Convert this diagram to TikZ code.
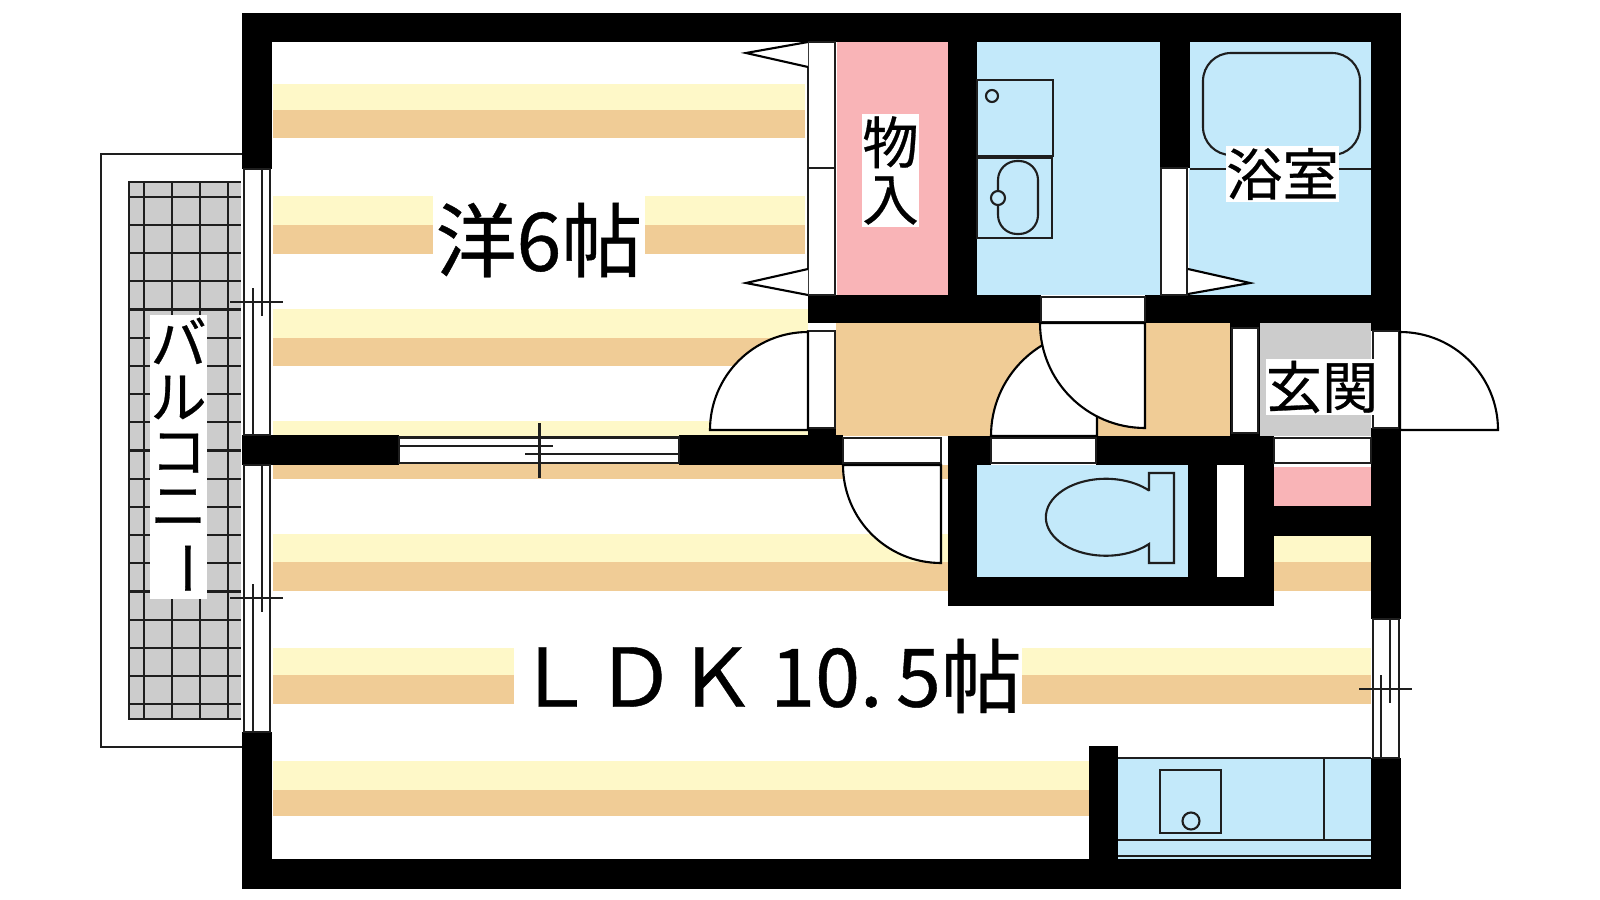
\documentclass[tikz,border=0pt]{standalone}
\usepackage{fontspec}
\usepackage{graphicx}
\setmainfont{Noto Sans CJK JP}[FakeBold=0.5]
\definecolor{stripey}{HTML}{FEF8C8}
\definecolor{stripeo}{HTML}{F0CC96}
\definecolor{pinkroom}{HTML}{F9B4B7}
\definecolor{blueroom}{HTML}{C3E9FA}
\definecolor{grayroom}{HTML}{CCCCCC}
\definecolor{lineink}{HTML}{1E1E1E}
\tikzset{
  wall/.style={fill=black, draw=none},
  yrow/.style={fill=stripey, draw=none},
  orow/.style={fill=stripeo, draw=none},
  fixture/.style={draw=lineink, line width=0.6pt},
  doorswing/.style={draw=black, line width=0.6pt, fill=white},
  jamb/.style={draw=lineink, line width=0.6pt, fill=white},
  hairline/.style={draw=lineink, line width=0.6pt},
  smalllabel/.style={fill=white, inner sep=0pt, align=center, font=\fontsize{16}{16.1}\selectfont},
  biglabel/.style={inner sep=0pt, font=\fontsize{23}{23}\selectfont}
}
\begin{document}
\begin{tikzpicture}[x=0.01cm, y=-0.01cm]
        \useasboundingbox[fill=white] (0,0) rectangle (1600,900);

        % Floor stripes
        \foreach \ytop/\ymid/\ybot/\xend in {84/110/138/805, 196/225/254/805, 309/338/366/808, 421/448/479/808, 534/562/591/948, 648/675/704/1371, 761/790/816/1089} {
            \fill[yrow] (273,\ytop) rectangle (\xend,\ymid);
            \fill[orow] (273,\ymid) rectangle (\xend,\ybot);
        }
        \fill[orow] (808,465) rectangle (948,479);
        \fill[yrow] (1274,536) rectangle (1371,562);
        \fill[orow] (1274,562) rectangle (1371,591);

        % Rooms
        \fill[pinkroom] (837,42) rectangle (948,295);
        \fill[blueroom] (977,42) rectangle (1160,295);
        \fill[blueroom] (1189,42) rectangle (1371,295);
        \fill[stripeo] (836,323) rectangle (1230,436);
        \fill[grayroom] (1260,323) rectangle (1371,436);
        \fill[blueroom] (977,465) rectangle (1188,577);
        \fill[pinkroom] (1274,467) rectangle (1371,506);
        \fill[blueroom] (1118,758) rectangle (1371,859);

        % Balcony
        \draw[hairline] (242,154) -- (101,154) -- (101,747) -- (242,747);
        \fill[grayroom] (129,182) rectangle (241,719);
        \foreach \xg in {144,172,200,228} {
            \draw[hairline] (\xg,182) -- (\xg,719);
        }
        \foreach \yg in {0,...,18} {
            \draw[hairline] (129,196.7+28.2*\yg) -- (241,196.7+28.2*\yg);
        }
        \draw[hairline] (241,719) -- (129,719) -- (129,182) -- (241,182);

        % Walls
        \fill[wall] (242,13) rectangle (1401,42);
        \fill[wall] (242,859) rectangle (1401,889);
        \fill[wall] (242,13) rectangle (272,169);
        \fill[wall] (242,732) rectangle (272,889);
        \fill[wall] (1371,13) rectangle (1401,331);
        \fill[wall] (1371,428) rectangle (1401,619);
        \fill[wall] (1371,758) rectangle (1401,889);
        \fill[wall] (242,435) rectangle (399,465);
        \fill[wall] (679,435) rectangle (843,465);
        \fill[wall] (808,428) rectangle (836,436);
        \fill[wall] (808,295) rectangle (1041,323);
        \fill[wall] (1145,295) rectangle (1401,323);
        \fill[wall] (948,42) rectangle (977,295);
        \fill[wall] (1160,42) rectangle (1190,168);
        \fill[wall] (1230,323) rectangle (1260,436);
        \fill[wall] (948,436) rectangle (991,465);
        \fill[wall] (948,465) rectangle (977,606);
        \fill[wall] (1096,436) rectangle (1274,465);
        \fill[wall] (948,577) rectangle (1274,606);
        \fill[wall] (1188,465) rectangle (1274,577);
        \fill[wall] (1274,506) rectangle (1371,536);
        \fill[wall] (1089,746) rectangle (1118,859);
        \fill[white] (1217,465) rectangle (1244,577);

        % Openings in the walls
        \draw[jamb] (808,42) rectangle (835,168);
        \draw[jamb] (808,168) rectangle (835,295);
        \draw[jamb] (1161,168) rectangle (1187,295);
        \draw[jamb] (808,331) rectangle (835,428);
        \draw[jamb] (1232,328) rectangle (1258,433);
        \draw[jamb] (1373,331) rectangle (1399,428);
        \draw[jamb] (1041,297) rectangle (1145,322);
        \draw[jamb] (843,438) rectangle (941,463);
        \draw[jamb] (991,438) rectangle (1096,463);
        \draw[jamb] (1274,438) rectangle (1371,463);

        % Windows
        \foreach \ya/\yb/\ytick in {169/435/302, 465/732/598} {
            \fill[white] (244,\ya) rectangle (270,\yb);
            \draw[hairline] (244,\ya) rectangle (270,\yb);
            \draw[hairline] (262,\ya) -- (262,\ytick+14);
            \draw[hairline] (253,\ytick-14) -- (253,\yb);
            \draw[hairline] (230,\ytick) -- (283,\ytick);
        }
        \fill[white] (399,437) rectangle (679,463);
        \draw[hairline] (399,437.5) rectangle (679,463);
        \draw[hairline] (399,446) -- (553,446);
        \draw[hairline] (525,454) -- (679,454);
        \draw[hairline] (539.5,423) -- (539.5,478);
        \fill[white] (1373,619) rectangle (1399,758);
        \draw[hairline] (1373,619) rectangle (1399,758);
        \draw[hairline] (1390,619) -- (1390,703);
        \draw[hairline] (1381,675) -- (1381,758);
        \draw[hairline] (1359,689) -- (1412,689);

        % Doors
        \draw[doorswing] (808,430) -- (710,430) arc[start angle=180, end angle=270, radius=98] -- cycle;
        \draw[doorswing] (1400,430) -- (1498,430) arc[start angle=0, end angle=-90, radius=98] -- cycle;
        \draw[doorswing] (941,465) -- (843,465) arc[start angle=180, end angle=90, radius=98] -- cycle;
        \draw[doorswing] (1097,436) -- (991,436) arc[start angle=180, end angle=270, radius=106] -- cycle;
        \draw[doorswing] (1145,323) -- (1040,323) arc[start angle=180, end angle=90, radius=105] -- cycle;
        \draw[doorswing] (808,42) -- (746,53) -- (808,67);
        \draw[doorswing] (808,269) -- (746,283) -- (808,295);
        \draw[doorswing] (1188,269) -- (1250,283) -- (1188,294);

        % Washroom
        \draw[fixture] (977,80) rectangle (1053,156);
        \draw[fixture] (992,96) circle [radius=6];
        \draw[fixture] (977,158) rectangle (1052,238);
        \draw[fixture, rounded corners=0.19cm] (998,161) rectangle (1038,234);
        \draw[fixture, fill=blueroom] (998,198) circle [radius=7];

        % Bath
        \draw[hairline] (1190,169) -- (1371,169);
        \draw[fixture, rounded corners=0.28cm] (1203,53) rectangle (1360,155);

        % Toilet
        \draw[fixture] (1149,491) -- (1149,473) -- (1174,473) -- (1174,563) -- (1149,563) -- (1149,544)
            arc[start angle=44, end angle=316, x radius=60, y radius=38.5];

        % Kitchen
        \draw[hairline] (1118,758) -- (1371,758);
        \draw[hairline] (1118,840) -- (1371,840);
        \draw[hairline] (1118,856) -- (1371,856);
        \draw[hairline] (1324,758) -- (1324,840);
        \draw[fixture] (1160,770) rectangle (1221,833);
        \draw[fixture] (1191,821) circle [radius=8.5];

        % Labels
        \node[smalllabel, font=\fontsize{16}{15.4}\selectfont, minimum width=0.57cm, minimum height=2.83cm] (balcony) at (178.5,457) {バ\\ル\\コ\\ニ\\\rotatebox[origin=c]{-90}{ー}};
        \node[smalllabel, minimum width=0.57cm, minimum height=1.13cm] (closet) at (890.5,170.5) {物\\入};
        \node[smalllabel, minimum width=1.13cm, minimum height=0.56cm] (bath) at (1282.5,174) {浴室};
        \node[smalllabel, minimum width=1.05cm, minimum height=0.56cm] (entrance) at (1322,387) {玄関};
        \node[biglabel, fill=white, minimum width=2.12cm, minimum height=0.95cm] (western) at (539,240) {洋6帖};
        \node[biglabel, fill=white, minimum width=5.08cm, minimum height=0.8cm] (ldk) at (768,676) {ＬＤＫ\,10.\,5帖};
\end{tikzpicture}
\end{document}
